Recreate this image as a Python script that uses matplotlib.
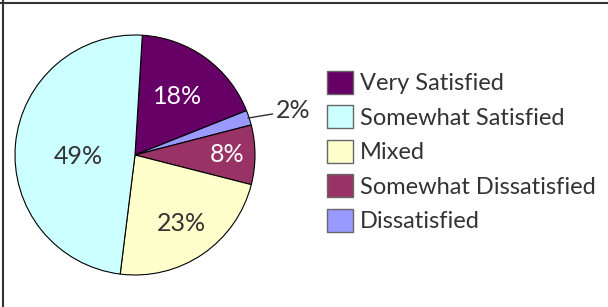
import numpy as np
import matplotlib
matplotlib.use("Agg")
import matplotlib.pyplot as plt
from matplotlib.patches import Patch
from matplotlib.lines import Line2D

plt.rcParams['font.family'] = ['Lato', 'DejaVu Sans']

# slices in clockwise order as drawn
pie_labels = ["Very Satisfied", "Dissatisfied", "Somewhat Dissatisfied", "Mixed", "Somewhat Satisfied"]
pie_values = [18, 2, 8, 23, 49]
pie_colors = ["#660066", "#9999ff", "#993366", "#ffffcc", "#ccffff"]
text_colors = ["white", "#333333", "white", "#333333", "#333333"]
label_radius = [0.6, 0, 0.77, 0.69, 0.47]

# legend order
legend_labels = ["Very Satisfied", "Somewhat Satisfied", "Mixed", "Somewhat Dissatisfied", "Dissatisfied"]

W, H = 608, 307
fig = plt.figure(figsize=(W / 100, H / 100), dpi=100)
fig.patch.set_facecolor("white")

cx, cy, r = 135, 155, 120
ax = fig.add_axes([(cx - r) / W, (H - cy - r) / H, 2 * r / W, 2 * r / H])
wedges, _ = ax.pie(pie_values, colors=pie_colors, startangle=86.5, counterclock=False,
                   wedgeprops=dict(edgecolor="black", linewidth=0.8))
ax.set_xlim(-1, 1)
ax.set_ylim(-1, 1)
ax.set_aspect("equal")
ax.axis("off")

for w, v, tc, lr in zip(wedges, pie_values, text_colors, label_radius):
    mid = np.deg2rad((w.theta1 + w.theta2) / 2)
    if v < 5:
        ax.annotate(f"{v}%", xy=(0.99 * np.cos(mid), 0.99 * np.sin(mid)),
                    xytext=(1.17, 0.37), fontsize=18, color=tc, va="center", ha="left",
                    arrowprops=dict(arrowstyle="-", color="#333333", lw=1, shrinkA=0, shrinkB=0))
        continue
    if v > 40:
        mid = np.deg2rad(182)
    ax.text(lr * np.cos(mid), lr * np.sin(mid), f"{v}%", fontsize=18, color=tc,
            ha="center", va="center")

by_name = dict(zip(pie_labels, pie_colors))
handles = [Patch(facecolor=by_name[n], edgecolor="#666666", linewidth=1) for n in legend_labels]
fig.legend(handles, legend_labels, loc="upper left", bbox_to_anchor=(327 / W, 1 - 71 / H),
           frameon=False, fontsize=17, handlelength=1.1, handleheight=1.1,
           handletextpad=0.3, labelspacing=0.47, borderpad=0, borderaxespad=0,
           labelcolor="#333333")

# frame lines on top and left
fig.add_artist(Line2D([0, 1], [1 - 2.5 / H, 1 - 2.5 / H], color="#333333", lw=1.5))
fig.add_artist(Line2D([3 / W, 3 / W], [0, 1], color="#333333", lw=1.5))

fig.savefig("out.png", dpi=100)
